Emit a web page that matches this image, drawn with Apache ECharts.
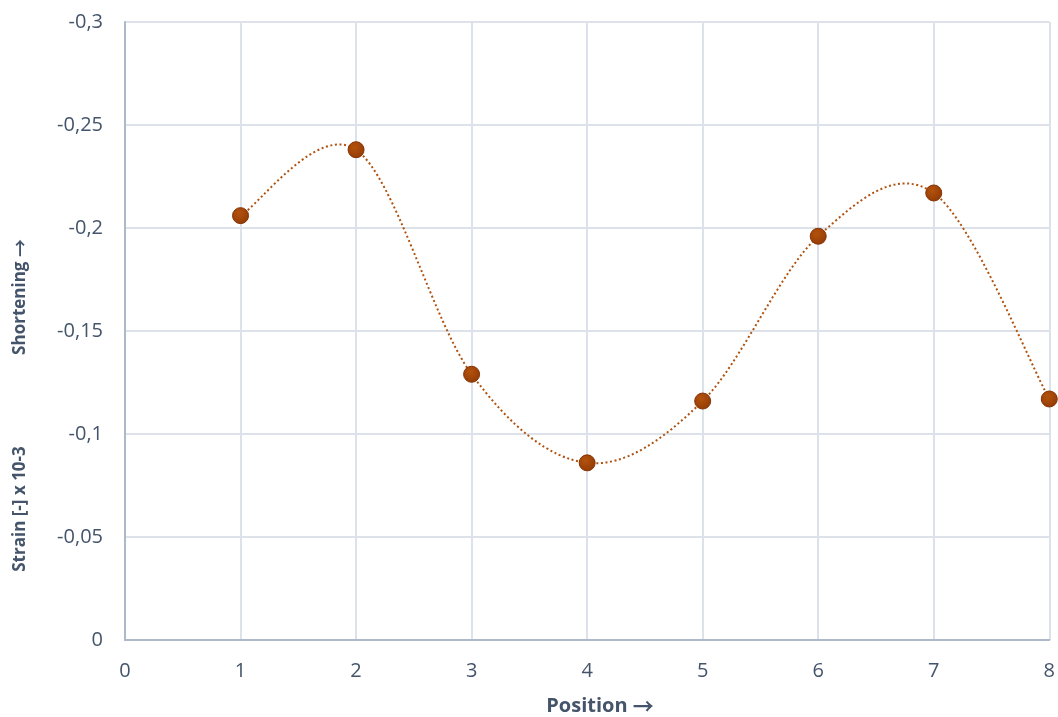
<!DOCTYPE html>
<html>
<head>
<meta charset="utf-8">
<script src="https://cdn.jsdelivr.net/npm/echarts@6/dist/echarts.min.js"></script>
<style>
  html, body { margin: 0; padding: 0; background: #ffffff; }
  #chart { width: 1058px; height: 717px; }
</style>
</head>
<body>
<div id="chart"></div>
<script>
// Measured strain at each position (negative = shortening)
const positions = [1, 2, 3, 4, 5, 6, 7, 8];
const strain = [-0.206, -0.238, -0.129, -0.086, -0.116, -0.196, -0.217, -0.117];
const xTicks = [0, 1, 2, 3, 4, 5, 6, 7, 8];
const yTicks = [0, -0.05, -0.1, -0.15, -0.2, -0.25, -0.3];

const textColor = '#44546a';
const fontFamily = '"Open Sans", "Noto Sans", sans-serif';
const arrowFont = '"Noto Sans CJK SC", "DejaVu Sans", sans-serif';
const lineColor = '#b0520f';

const points = positions.map((p, i) => [p, strain[i]]);

// Draws the spline segment from point i to point i+1 (Catmull-Rom style
// control points computed in pixel space from neighbouring points).
function renderSegment(params, api) {
  const i = params.dataIndex;
  if (i >= points.length - 1) return null;
  const n = points.length;
  const P = k => api.coord(points[Math.max(0, Math.min(n - 1, k))]);
  const p0 = P(i - 1), p1 = P(i), p2 = P(i + 1), p3 = P(i + 2);
  const t = 1 / 6;
  return {
    type: 'bezierCurve',
    shape: {
      x1: p1[0], y1: p1[1],
      x2: p2[0], y2: p2[1],
      cpx1: p1[0] + (p2[0] - p0[0]) * t, cpy1: p1[1] + (p2[1] - p0[1]) * t,
      cpx2: p2[0] - (p3[0] - p1[0]) * t, cpy2: p2[1] - (p3[1] - p1[1]) * t
    },
    style: { stroke: lineColor, fill: 'none', lineWidth: 2, lineDash: [2, 2.6] },
    silent: true
  };
}

const chart = echarts.init(document.getElementById('chart'), null, { renderer: 'canvas' });

chart.setOption({
  animation: false,
  grid: { left: 125, right: 8, top: 22, bottom: 77, containLabel: false },
  xAxis: {
    type: 'value',
    min: xTicks[0],
    max: xTicks[xTicks.length - 1],
    interval: 1,
    axisLine: { show: true, lineStyle: { color: '#adb9ca', width: 2 } },
    axisTick: { show: false },
    splitLine: { show: true, lineStyle: { color: '#dde2ea', width: 2 } },
    axisLabel: { color: textColor, fontSize: 20, fontFamily, margin: 21 }
  },
  yAxis: {
    type: 'value',
    inverse: true,
    min: yTicks[yTicks.length - 1],
    max: yTicks[0],
    interval: 0.05,
    axisLine: { show: true, lineStyle: { color: '#adb9ca', width: 2 } },
    axisTick: { show: false },
    splitLine: { show: true, lineStyle: { color: '#dde2ea', width: 2 } },
    axisLabel: {
      color: textColor, fontSize: 20, fontFamily, margin: 22,
      formatter: v => {
        const r = Math.round(v * 100) / 100;
        return r === 0 ? '0' : String(r).replace('.', ',');
      }
    }
  },
  graphic: [
    {
      type: 'text', x: 600, y: 706,
      style: {
        text: '{t|Position }{a|→}',
        align: 'center', verticalAlign: 'middle',
        rich: {
          t: { fill: textColor, font: 'bold 20px ' + fontFamily },
          a: { fill: textColor, font: 'bold 21px ' + arrowFont }
        }
      }
    },
    {
      type: 'text', x: 20, y: 509, rotation: Math.PI / 2,
      style: { text: 'Strain [-] x 10-3', fill: textColor, font: 'bold 17px ' + fontFamily, align: 'center', verticalAlign: 'middle' }
    },
    {
      type: 'text', x: 20, y: 297, rotation: Math.PI / 2,
      style: {
        text: '{t|Shortening }{a|→}',
        align: 'center', verticalAlign: 'middle',
        rich: {
          t: { fill: textColor, font: 'bold 17px ' + fontFamily },
          a: { fill: textColor, font: 'bold 18px ' + arrowFont }
        }
      }
    }
  ],
  series: [
    {
      type: 'custom',
      data: points,
      encode: { x: 0, y: 1 },
      renderItem: renderSegment,
      clip: false,
      z: 2
    },
    {
      type: 'scatter',
      data: points,
      symbol: 'circle',
      symbolSize: 16,
      itemStyle: {
        opacity: 1,
        color: new echarts.graphic.RadialGradient(0.4, 0.35, 0.7, [
          { offset: 0, color: '#b4520c' },
          { offset: 1, color: '#913a06' }
        ]),
        borderColor: '#863305',
        borderWidth: 1
      },
      clip: false,
      z: 3
    }
  ]
});
</script>
</body>
</html>
